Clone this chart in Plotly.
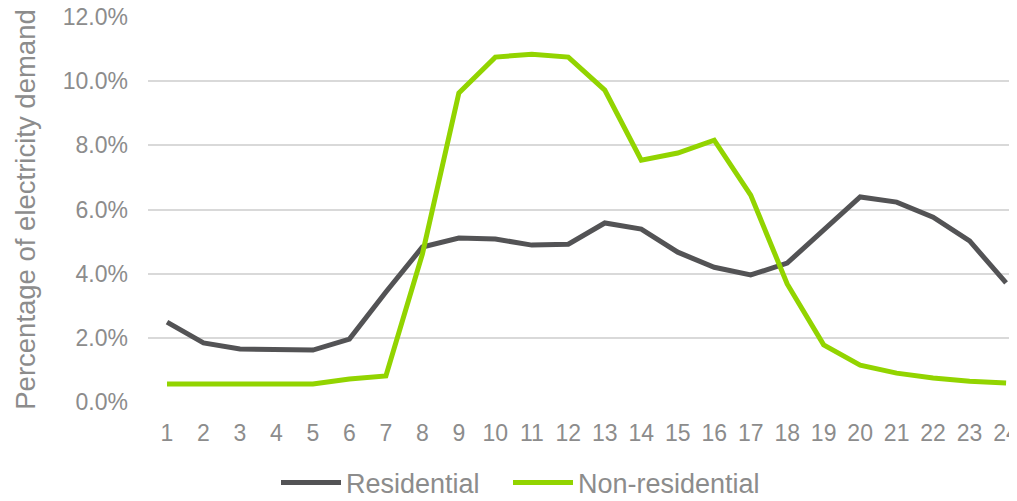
import plotly.graph_objects as go

hours = list(range(1, 25))
residential = [2.49, 1.84, 1.65, 1.62, 1.62, 1.96, 3.43, 4.83, 5.11, 5.08, 4.89, 4.92,
               5.58, 5.39, 4.67, 4.20, 3.96, 4.33, 5.36, 6.39, 6.23, 5.76, 5.02, 3.71]
non_residential = [0.56, 0.56, 0.56, 0.56, 0.56, 0.72, 0.81, 4.61, 9.63, 10.75, 10.84, 10.75,
                   9.72, 7.54, 7.76, 8.16, 6.45, 3.68, 1.78, 1.15, 0.90, 0.75, 0.65, 0.59]
y_ticks = [0, 2, 4, 6, 8, 10, 12]
y_tick_labels = ["0.0%", "2.0%", "4.0%", "6.0%", "8.0%", "10.0%", "12.0%"]

grey = "#8c8c8c"
W, H = 1001, 485  # page body keeps an 8px margin; figure fits without scrolling

fig = go.Figure()
fig.add_trace(go.Scatter(x=hours, y=residential, mode="lines", name="Residential",
                         line=dict(color="#535355", width=5), legend="legend"))
fig.add_trace(go.Scatter(x=hours, y=non_residential, mode="lines", name="Non-residential",
                         line=dict(color="#92d400", width=5), legend="legend2"))

leg_common = dict(orientation="h", xref="container", yref="container",
                  xanchor="left", yanchor="middle", y=1 - 475 / H,
                  font=dict(size=27, color=grey), itemwidth=60,
                  bgcolor="rgba(0,0,0,0)")

fig.update_layout(
    width=W, height=H,
    margin=dict(l=140, r=0, t=9, b=91),
    paper_bgcolor="white", plot_bgcolor="white",
    font=dict(family="Liberation Sans, Arial, sans-serif", color=grey, size=23),
    xaxis=dict(range=[0.479, 24.08], tickmode="array", tickvals=hours,
               ticktext=[str(h) for h in hours], showgrid=False, zeroline=False,
               showline=False, ticks="", automargin=False, ticklabelstandoff=15,
               ticklabeloverflow="allow", tickfont=dict(size=23, color=grey)),
    yaxis=dict(range=[0, 12], tickmode="array", tickvals=y_ticks, ticktext=y_tick_labels,
               showgrid=True, gridcolor="#d9d9d9", gridwidth=1.5, zeroline=False,
               showline=False, ticks="", ticklabelstandoff=19, automargin=False,
               ticklabeloverflow="allow", tickfont=dict(size=23, color=grey),
               title=dict(text="Percentage of electricity demand",
                          font=dict(size=27.5, color=grey), standoff=19)),
    legend=dict(x=268 / W, **leg_common),
    legend2=dict(x=500 / W, **leg_common),
    showlegend=True,
)
fig.write_html("out.html")
